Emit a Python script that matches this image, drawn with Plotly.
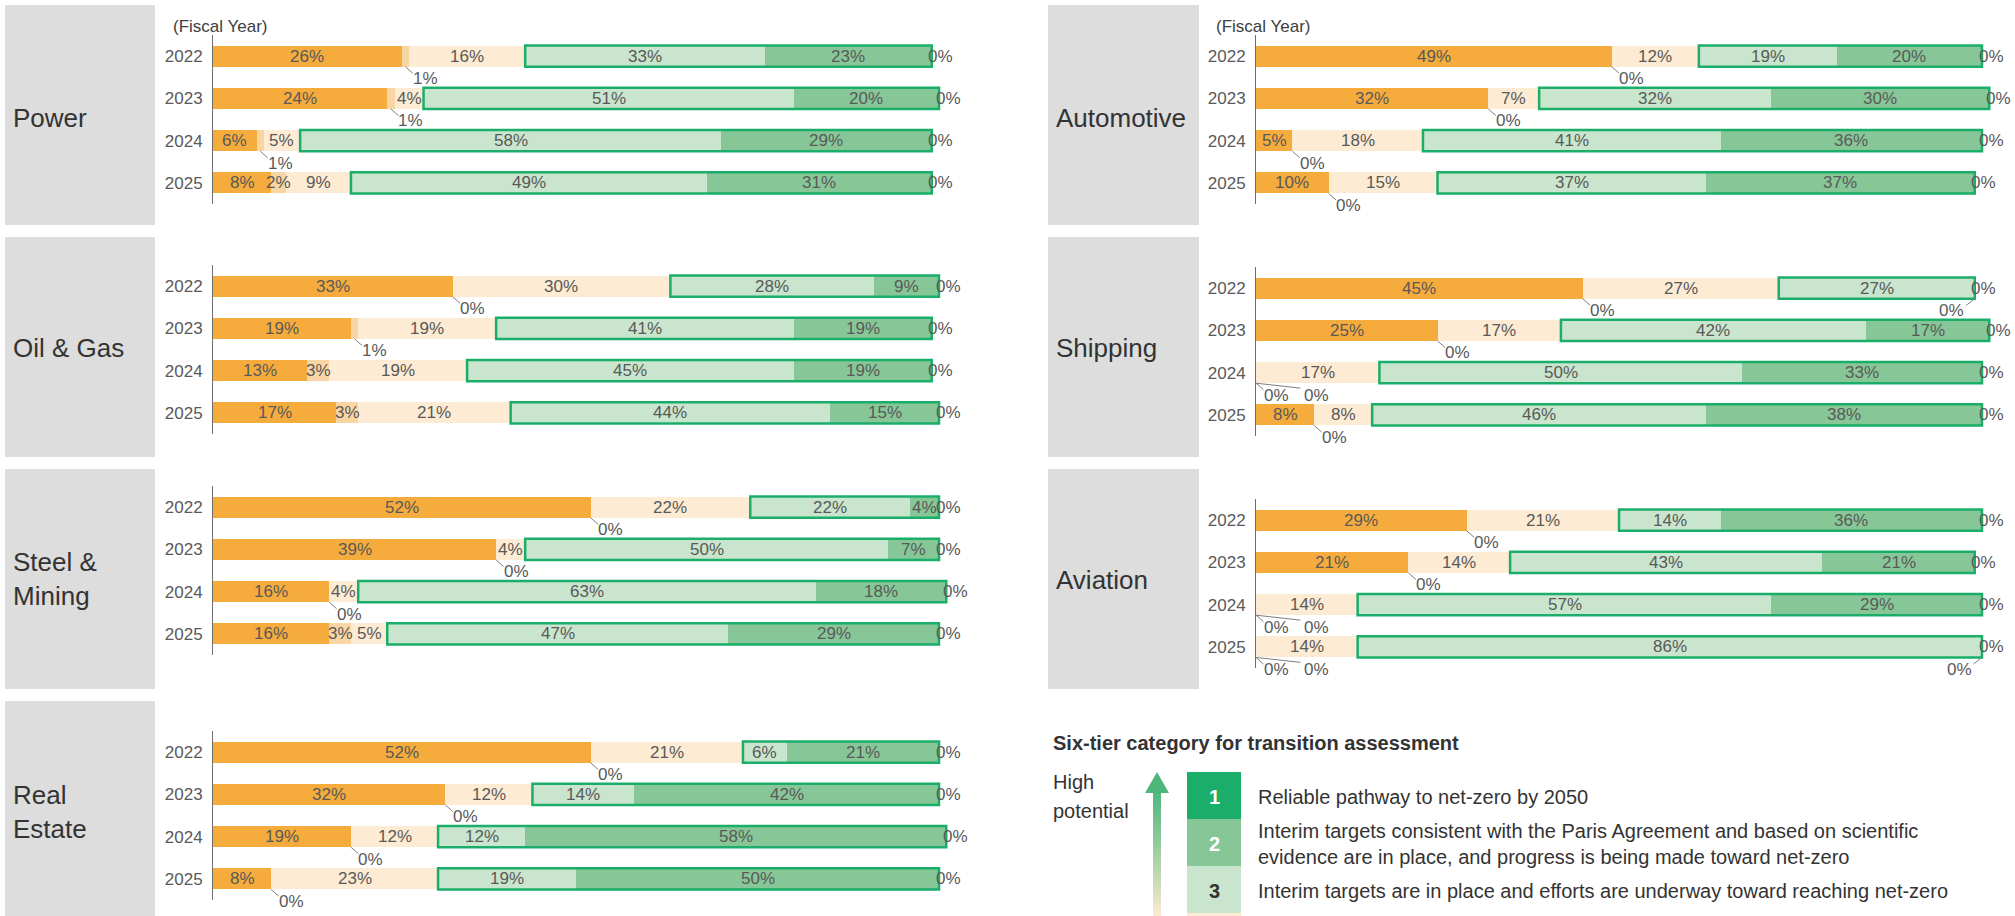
import plotly.graph_objects as go

W, H = 2015, 916

YEARS = ["2022", "2023", "2024", "2025"]
# stacking order, left to right: tier 6 ... tier 1
TIER_LABELS = ["6", "5", "4", "3", "2", "1"]
TIER_COLORS = ["#F5AC3C", "#F8D5A2", "#FDEBD3", "#C9E5CD", "#87C797", "#1AAE6A"]

# share of companies in each tier (%), one row per fiscal year, columns = tiers 6..1
POWER = [[26, 1, 16, 33, 23, 0], [24, 1, 4, 51, 20, 0], [6, 1, 5, 58, 29, 0], [8, 2, 9, 49, 31, 0]]
OIL_GAS = [[33, 0, 30, 28, 9, 0], [19, 1, 19, 41, 19, 0], [13, 3, 19, 45, 19, 0], [17, 3, 21, 44, 15, 0]]
STEEL_MINING = [[52, 0, 22, 22, 4, 0], [39, 0, 4, 50, 7, 0], [16, 0, 4, 63, 18, 0], [16, 3, 5, 47, 29, 0]]
REAL_ESTATE = [[52, 0, 21, 6, 21, 0], [32, 0, 12, 14, 42, 0], [19, 0, 12, 12, 58, 0], [8, 0, 23, 19, 50, 0]]
AUTOMOTIVE = [[49, 0, 12, 19, 20, 0], [32, 0, 7, 32, 30, 0], [5, 0, 18, 41, 36, 0], [10, 0, 15, 37, 37, 0]]
SHIPPING = [[45, 0, 27, 27, 0, 0], [25, 0, 17, 42, 17, 0], [0, 0, 17, 50, 33, 0], [8, 0, 8, 46, 38, 0]]
AVIATION = [[29, 0, 21, 14, 36, 0], [21, 0, 14, 43, 21, 0], [0, 0, 14, 57, 29, 0], [0, 0, 14, 86, 0, 0]]

LEGEND_TITLE = "Six-tier category for transition assessment"
LEGEND_ITEMS = [
    ("1", "Reliable pathway to net-zero by 2050"),
    ("2", "Interim targets consistent with the Paris Agreement and based on scientific<br>"
          "evidence are in place, and progress is being made toward net-zero"),
    ("3", "Interim targets are in place and efforts are underway toward reaching net-zero"),
]

FONT = "Liberation Sans, Arial, sans-serif"
LABEL_GREY = "#595959"
TEXT_DARK = "#333333"
OUTLINE = "#1AAE6A"


def px(x):
    return x / W


def py(y):
    return 1 - y / H


# column geometry (pixels): axis start, grey panel extent
COLS = [dict(axis=213, box=(5, 155)), dict(axis=1256, box=(1048, 1199))]
PX_PER_PCT = 7.26
X_MAX = 102

# (name, data, column, axis top, axis bottom, grey box top/bottom, name centre y)
PANELS = [
    ("Power", POWER, 0, 35, 204, (5, 225), 118),
    ("Oil & Gas", OIL_GAS, 0, 265, 434, (237, 457), 348),
    ("Steel &<br>Mining", STEEL_MINING, 0, 486, 655, (469, 689), 579),
    ("Real<br>Estate", REAL_ESTATE, 0, 731, 900, (701, 916), 812),
    ("Automotive", AUTOMOTIVE, 1, 35, 204, (5, 225), 118),
    ("Shipping", SHIPPING, 1, 267, 436, (237, 457), 348),
    ("Aviation", AVIATION, 1, 499, 668, (469, 689), 580),
]

# leader-label offsets in pixels: (line end dx, dy, label centre dx, dy)
LEADER_RIGHT = (8, 7, 20, 12)
LEADER_RIGHT_FAR = (45, 5, 60, 12)
LEADER_LEFT = (-9, 7, -23, 12)

fig = go.Figure()
shapes = []
annotations = []
layout_axes = {}

BAR_W = 0.5
rows = list(range(len(YEARS)))


def add_leader(xa, ya, x, y, txt, off, font):
    ldx, ldy, tdx, tdy = off
    annotations.append(dict(xref=xa, yref=ya, x=x, y=y, text=" ", showarrow=True,
                            arrowhead=0, arrowwidth=1, arrowcolor="#7F7F7F",
                            ax=ldx, ay=ldy, axref="pixel", ayref="pixel",
                            standoff=0, startstandoff=0, font=dict(size=1), borderpad=0))
    annotations.append(dict(xref=xa, yref=ya, x=x, y=y, text=txt, showarrow=False,
                            xanchor="center", yanchor="middle", xshift=tdx, yshift=-tdy,
                            font=font))


for p, (name, data, col, ytop, ybot, (btop, bbot), name_y) in enumerate(PANELS, start=1):
    xa = "x" if p == 1 else f"x{p}"
    ya = "y" if p == 1 else f"y{p}"
    xkey = "xaxis" if p == 1 else f"xaxis{p}"
    ykey = "yaxis" if p == 1 else f"yaxis{p}"
    c = COLS[col]
    x0px = c["axis"]
    x1px = x0px + X_MAX * PX_PER_PCT

    layout_axes[xkey] = dict(domain=[px(x0px), px(x1px)], range=[0, X_MAX], visible=False,
                             anchor=ya, fixedrange=True)
    layout_axes[ykey] = dict(domain=[py(ybot), py(ytop)], range=[3.5, -0.5], anchor=xa,
                             tickvals=rows, ticktext=YEARS, ticks="", showgrid=False,
                             zeroline=False, showline=True, linecolor="#6F6F6F", linewidth=1,
                             tickfont=dict(size=17, color=LABEL_GREY, family=FONT),
                             ticklabelstandoff=6, fixedrange=True)

    # grey sector panel
    shapes.append(dict(type="rect", xref="paper", yref="paper", layer="below",
                       x0=px(c["box"][0]), x1=px(c["box"][1]), y0=py(bbot), y1=py(btop),
                       fillcolor="#DCDDDC", line=dict(width=0)))
    annotations.append(dict(xref="paper", yref="paper", x=px(c["box"][0] + 6), y=py(name_y),
                            text=name, showarrow=False, xanchor="left", yanchor="middle",
                            align="left", font=dict(size=26, color=TEXT_DARK, family=FONT)))
    if ytop < 100:
        annotations.append(dict(xref="paper", yref="paper", x=px(x0px - 42), y=py(26),
                                text="(Fiscal Year)", showarrow=False, xanchor="left",
                                yanchor="middle", font=dict(size=17, color="#404040", family=FONT)))

    for k, tier in enumerate(TIER_LABELS):
        fig.add_trace(go.Bar(
            y=rows, x=[row[k] for row in data], orientation="h", width=BAR_W,
            marker=dict(color=TIER_COLORS[k], line=dict(width=0)),
            name=f"Tier {tier}", xaxis=xa, yaxis=ya, showlegend=False,
            hovertemplate=f"Tier {tier}: %{{x}}%<extra></extra>",
        ))

    for i, row in enumerate(data):
        total = sum(row)
        green_start = sum(row[:3])
        shapes.append(dict(type="rect", xref=xa, yref=ya, x0=green_start, x1=total,
                           y0=i - BAR_W / 2, y1=i + BAR_W / 2,
                           line=dict(color=OUTLINE, width=2.5), fillcolor="rgba(0,0,0,0)"))
        cum = 0
        low_leader_at_zero = False
        for k, v in enumerate(row):
            centre = cum + v / 2
            txt = f"{v}%"
            lf = dict(size=17, color=LABEL_GREY, family=FONT)
            leader = None
            if k == 0 and v == 0:
                leader = LEADER_RIGHT
                low_leader_at_zero = True
            elif k == 1 and v <= 1:
                leader = LEADER_RIGHT_FAR if (low_leader_at_zero and cum == 0) else LEADER_RIGHT
            elif k == 4 and v == 0:
                leader = LEADER_LEFT

            if leader is not None:
                add_leader(xa, ya, centre, i + BAR_W / 2, txt, leader, lf)
            elif k == 5:
                # top tier sits at the right end of the bar
                annotations.append(dict(xref=xa, yref=ya, x=centre, y=i, text=txt,
                                        showarrow=False, xanchor="center", yanchor="middle",
                                        xshift=9, font=lf))
            else:
                annotations.append(dict(xref=xa, yref=ya, x=centre, y=i, text=txt,
                                        showarrow=False, xanchor="center", yanchor="middle",
                                        font=lf))
            cum += v

# ---- tier legend ----
annotations.append(dict(xref="paper", yref="paper", x=px(1051), y=py(743), text=f"<b>{LEGEND_TITLE}</b>",
                        showarrow=False, xanchor="left", yanchor="middle",
                        font=dict(size=20, color=TEXT_DARK, family=FONT)))
annotations.append(dict(xref="paper", yref="paper", x=px(1051), y=py(782), text="High",
                        showarrow=False, xanchor="left", yanchor="middle",
                        font=dict(size=20, color=TEXT_DARK, family=FONT)))
annotations.append(dict(xref="paper", yref="paper", x=px(1051), y=py(811), text="potential",
                        showarrow=False, xanchor="left", yanchor="middle",
                        font=dict(size=20, color=TEXT_DARK, family=FONT)))


# gradient arrow: green at the top fading to cream
def mix(c1, c2, t):
    a = [int(c1[j:j + 2], 16) for j in (1, 3, 5)]
    b = [int(c2[j:j + 2], 16) for j in (1, 3, 5)]
    return "rgb({},{},{})".format(*[round(a[j] + (b[j] - a[j]) * t) for j in range(3)])


shaft_top, shaft_bot, n = 792, 916, 40
for s in range(n):
    t0 = shaft_top + (shaft_bot - shaft_top) * s / n
    t1 = shaft_top + (shaft_bot - shaft_top) * (s + 1) / n + 0.6
    t = s / (n - 1)
    col = mix("#52B87E", "#FBEAD0", t ** 1.1)
    shapes.append(dict(type="rect", xref="paper", yref="paper", x0=px(1153), x1=px(1161),
                       y0=py(t1), y1=py(t0), fillcolor=col, line=dict(width=0)))
shapes.append(dict(type="path", xref="paper", yref="paper",
                   path=f"M {px(1145)} {py(793)} L {px(1169)} {py(793)} L {px(1157)} {py(772)} Z",
                   fillcolor="#4DB67B", line=dict(width=0)))

box_colors = [TIER_COLORS[5], TIER_COLORS[4], TIER_COLORS[3]]
num_colors = ["white", "white", "#333333"]
box_top = 772
box_h = 47
for j, (num, desc) in enumerate(LEGEND_ITEMS):
    y0 = box_top + j * box_h
    shapes.append(dict(type="rect", xref="paper", yref="paper", x0=px(1187), x1=px(1241),
                       y0=py(y0 + box_h), y1=py(y0), fillcolor=box_colors[j], line=dict(width=0)))
    annotations.append(dict(xref="paper", yref="paper", x=px(1214), y=py(y0 + box_h / 2 + 1),
                            text=f"<b>{num}</b>", showarrow=False, xanchor="center", yanchor="middle",
                            font=dict(size=20, color=num_colors[j], family=FONT)))
    annotations.append(dict(xref="paper", yref="paper", x=px(1256), y=py(y0 + box_h / 2 + 1),
                            text=desc, showarrow=False, xanchor="left", yanchor="middle",
                            align="left", font=dict(size=20, color=TEXT_DARK, family=FONT)))
# tier 4 box peeking below
shapes.append(dict(type="rect", xref="paper", yref="paper", x0=px(1187), x1=px(1241),
                   y0=py(916), y1=py(box_top + 3 * box_h), fillcolor=TIER_COLORS[2], line=dict(width=0)))

fig.update_layout(
    width=W, height=H, margin=dict(l=0, r=0, t=0, b=0),
    paper_bgcolor="white", plot_bgcolor="rgba(0,0,0,0)",
    barmode="stack", bargap=0, showlegend=False,
    font=dict(family=FONT, color=LABEL_GREY),
    shapes=shapes, annotations=annotations,
    **layout_axes,
)

fig.write_html("out.html", config=dict(displayModeBar=False))
